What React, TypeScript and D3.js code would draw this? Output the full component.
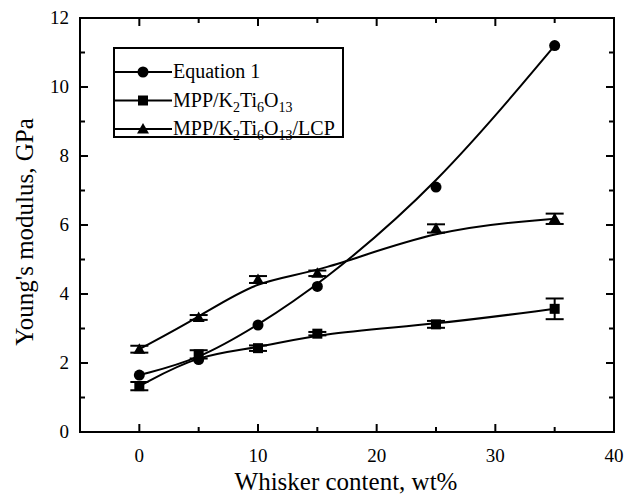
import React from "react";
import * as d3 from "d3";

const xValues = [0, 5, 10, 15, 25, 35];
const equation1 = [1.65, 2.1, 3.1, 4.22, 7.1, 11.2];
const mppK = [1.33, 2.25, 2.43, 2.85, 3.12, 3.57];
const mppKErr = [0.12, 0.12, 0.08, 0.05, 0.1, 0.3];
const mppKLcp = [2.4, 3.32, 4.42, 4.6, 5.9, 6.18];
const mppKLcpErr = [0.1, 0.07, 0.1, 0.08, 0.12, 0.15];
const xTicks = [0, 10, 20, 30, 40];
const xMinor = [-5, 5, 15, 25, 35];
const yTicks = [0, 2, 4, 6, 8, 10, 12];
const yMinor = [1, 3, 5, 7, 9, 11];

const W = 626, H = 498;
const L = 80, R = 614, T = 18, B = 432;
const FONT = "Liberation Serif, Times New Roman, serif";

type Marker = "circle" | "square" | "triangle";

function MarkerShape({ type, cx, cy }: { type: Marker; cx: number; cy: number }) {
  if (type === "circle") return <circle cx={cx} cy={cy} r={5.5} fill="#000" />;
  if (type === "square") return <rect x={cx - 5} y={cy - 5} width={10} height={10} fill="#000" />;
  const s = 6;
  return <path d={`M${cx},${cy - s}L${cx + s},${cy + s * 0.75}L${cx - s},${cy + s * 0.75}Z`} fill="#000" />;
}

function Sub({ children }: { children: React.ReactNode }) {
  return (
    <tspan dy={5} fontSize={14} fill="#000">
      {children}
    </tspan>
  );
}

export default function App() {
  const x = d3.scaleLinear().domain([-5, 40]).range([L, R]);
  const y = d3.scaleLinear().domain([0, 12]).range([B, T]);
  const line = d3
    .line<[number, number]>()
    .x((d) => x(d[0]))
    .y((d) => y(d[1]))
    .curve(d3.curveBasis);

  const series: { name: React.ReactNode; vals: number[]; err?: number[]; marker: Marker }[] = [
    { name: "Equation 1", vals: equation1, marker: "circle" },
    {
      name: (
        <>
          MPP/K<Sub>2</Sub>
          <tspan dy={-5}>Ti</tspan>
          <Sub>6</Sub>
          <tspan dy={-5}>O</tspan>
          <Sub>13</Sub>
        </>
      ),
      vals: mppK,
      err: mppKErr,
      marker: "square",
    },
    {
      name: (
        <>
          MPP/K<Sub>2</Sub>
          <tspan dy={-5}>Ti</tspan>
          <Sub>6</Sub>
          <tspan dy={-5}>O</tspan>
          <Sub>13</Sub>
          <tspan dy={-5}>/LCP</tspan>
        </>
      ),
      vals: mppKLcp,
      err: mppKLcpErr,
      marker: "triangle",
    },
  ];

  return (
    <svg width={W} height={H} style={{ position: "absolute", left: 0, top: 0, background: "#fff" }}>
      <rect width={W} height={H} fill="#fff" />
      {/* frame */}
      <rect x={L} y={T} width={R - L} height={B - T} fill="none" stroke="#000" strokeWidth={2} />
      {/* x ticks */}
      {xTicks.map((t) => (
        <g key={"xt" + t}>
          <line x1={x(t)} x2={x(t)} y1={B} y2={B - 8} stroke="#000" strokeWidth={2} />
          <line x1={x(t)} x2={x(t)} y1={T} y2={T + 8} stroke="#000" strokeWidth={2} />
          <text x={x(t)} y={462} textAnchor="middle" fontFamily={FONT} fontSize={19} fill="#000">
            {t}
          </text>
        </g>
      ))}
      {xMinor.map((t) => (
        <g key={"xm" + t}>
          <line x1={x(t)} x2={x(t)} y1={B} y2={B - 5} stroke="#000" strokeWidth={2} />
          <line x1={x(t)} x2={x(t)} y1={T} y2={T + 5} stroke="#000" strokeWidth={2} />
        </g>
      ))}
      {yTicks.map((t) => (
        <g key={"yt" + t}>
          <line x1={L} x2={L + 8} y1={y(t)} y2={y(t)} stroke="#000" strokeWidth={2} />
          <line x1={R} x2={R - 8} y1={y(t)} y2={y(t)} stroke="#000" strokeWidth={2} />
          <text x={69} y={y(t) + 6} textAnchor="end" fontFamily={FONT} fontSize={19} fill="#000">
            {t}
          </text>
        </g>
      ))}
      {yMinor.map((t) => (
        <g key={"ym" + t}>
          <line x1={L} x2={L + 5} y1={y(t)} y2={y(t)} stroke="#000" strokeWidth={2} />
          <line x1={R} x2={R - 5} y1={y(t)} y2={y(t)} stroke="#000" strokeWidth={2} />
        </g>
      ))}
      {/* axis titles */}
      <text x={346} y={490} textAnchor="middle" fontFamily={FONT} fontSize={25} fill="#000">
        Whisker content, wt%
      </text>
      <text
        transform={`translate(33,232) rotate(-90)`}
        textAnchor="middle"
        fontFamily={FONT}
        fontSize={25}
        fill="#000"
      >
        Young's modulus, GPa
      </text>
      {/* series */}
      {series.map((s, si) => {
        const pts = xValues.map((xv, i) => [xv, s.vals[i]] as [number, number]);
        return (
          <g key={"s" + si}>
            <path d={line(pts) || ""} fill="none" stroke="#000" strokeWidth={2} />
            {s.err &&
              xValues.map((xv, i) => {
                const cx = x(xv);
                const y1 = y(s.vals[i] + s.err![i]);
                const y2 = y(s.vals[i] - s.err![i]);
                return (
                  <g key={"e" + i}>
                    <line x1={cx} x2={cx} y1={y1} y2={y2} stroke="#000" strokeWidth={2} />
                    <line x1={cx - 9} x2={cx + 9} y1={y1} y2={y1} stroke="#000" strokeWidth={2} />
                    <line x1={cx - 9} x2={cx + 9} y1={y2} y2={y2} stroke="#000" strokeWidth={2} />
                  </g>
                );
              })}
            {xValues.map((xv, i) => (
              <MarkerShape key={"m" + i} type={s.marker} cx={x(xv)} cy={y(s.vals[i])} />
            ))}
          </g>
        );
      })}
      {/* legend */}
      <rect x={114} y={48} width={229} height={89} fill="#fff" stroke="#000" strokeWidth={2} />
      {series.map((s, i) => {
        const ly = 72 + i * 28.5;
        return (
          <g key={"l" + i}>
            <line x1={114} x2={172} y1={ly} y2={ly} stroke="#000" strokeWidth={2} />
            <MarkerShape type={s.marker} cx={143} cy={ly} />
            <text x={173} y={ly + 6} fontFamily={FONT} fontSize={20} fill="#000">
              {s.name}
            </text>
          </g>
        );
      })}
    </svg>
  );
}
